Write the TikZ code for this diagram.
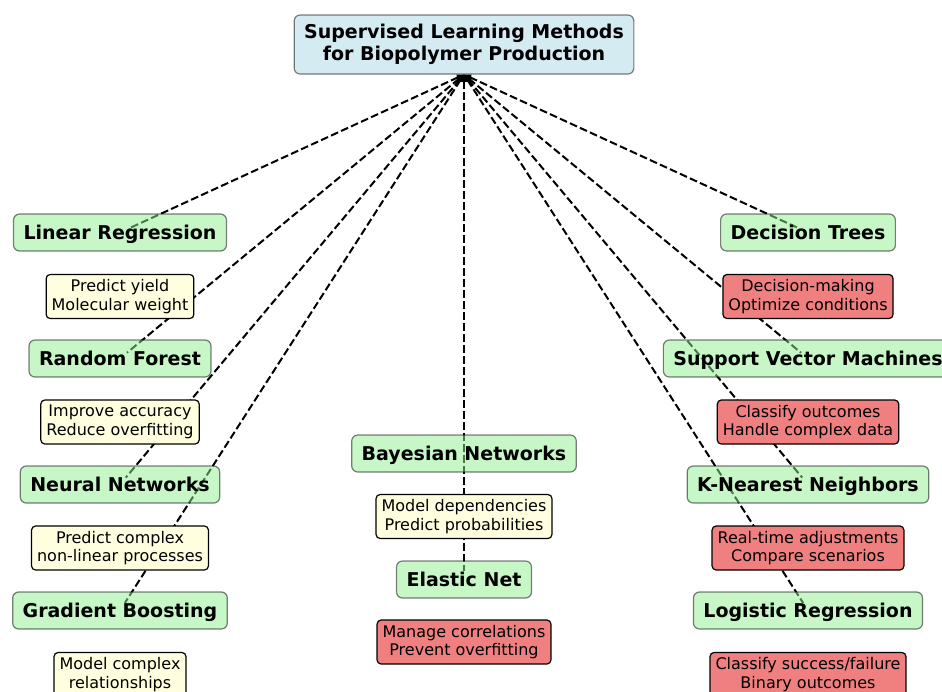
\documentclass[tikz,border=0pt]{standalone}
\usepackage{fontspec}
\setmainfont{DejaVu Sans}
\usetikzlibrary{arrows.meta}
\pgfdeclarelayer{paper}
\pgfdeclarelayer{links}
\pgfsetlayers{paper,links,main}
\definecolor{rootblue}{HTML}{ADD8E6}
\definecolor{methodgreen}{HTML}{90EE90}
\definecolor{usecream}{HTML}{FFFFE0}
\definecolor{usecoral}{HTML}{F08080}
\tikzset{
  rootbox/.style={draw=black, draw opacity=0.5, fill=rootblue, fill opacity=0.5,
    text opacity=1, rounded corners=6pt, line width=1.2pt, align=center,
    inner xsep=10pt, minimum height=59pt,
    font=\fontsize{19}{22}\selectfont\bfseries},
  method/.style={draw=black, draw opacity=0.5, fill=methodgreen, fill opacity=0.5,
    text opacity=1, rounded corners=6pt, line width=1.2pt,
    inner xsep=10pt, inner ysep=0pt, minimum height=37pt,
    text height=15pt, text depth=2pt,
    font=\fontsize{19}{22}\selectfont\bfseries},
  usebox/.style={draw=black, rounded corners=4pt, line width=1.2pt, align=center,
    inner xsep=5.5pt, inner ysep=2pt, minimum height=44pt,
    font=\fontsize{16}{18.5}\selectfont},
  cream/.style={usebox, fill=usecream},
  coral/.style={usebox, fill=usecoral},
  link/.style={draw=black, line width=2pt, dash pattern=on 7.7pt off 3.3pt,
    shorten >=9pt, {Stealth[length=7pt,width=6pt,inset=0pt]}-},
}
\begin{document}
\begin{tikzpicture}[x=1pt, y=-1pt]
\clip (0,0) rectangle (942,691);
\begin{pgfonlayer}{paper}
  \fill[white] (0,0) rectangle (942,691);
\end{pgfonlayer}

% title
\node[rootbox] (root) at (464,44.5) {Supervised Learning Methods\\for Biopolymer Production};

% left column
\node[method] (lr) at (120,232.5) {Linear Regression};
\node[cream]  (lru) at (120,296.5) {Predict yield\\Molecular weight};
\node[method] (rf) at (120,358.5) {Random Forest};
\node[cream]  (rfu) at (120,422) {Improve accuracy\\Reduce overfitting};
\node[method] (nn) at (120,484.5) {Neural Networks};
\node[cream]  (nnu) at (120,548) {Predict complex\\non-linear processes};
\node[method] (gb) at (120,610.5) {Gradient Boosting};
\node[cream]  (gbu) at (120,674.5) {Model complex\\relationships};

% middle column
\node[method] (bn) at (464,453.5) {Bayesian Networks};
\node[cream]  (bnu) at (464,516.5) {Model dependencies\\Predict probabilities};
\node[method] (en) at (464,579.5) {Elastic Net};
\node[coral]  (enu) at (464,642) {Manage correlations\\Prevent overfitting};

% right column
\node[method] (dt) at (808,232.5) {Decision Trees};
\node[coral]  (dtu) at (808,296.5) {Decision-making\\Optimize conditions};
\node[method] (svm) at (808,358.5) {Support Vector Machines};
\node[coral]  (svmu) at (808,422) {Classify outcomes\\Handle complex data};
\node[method] (knn) at (808,484.5) {K-Nearest Neighbors};
\node[coral]  (knnu) at (808,548) {Real-time adjustments\\Compare scenarios};
\node[method] (lg) at (808,610.5) {Logistic Regression};
\node[coral]  (lgu) at (808,674.5) {Classify success/failure\\Binary outcomes};

% dashed links: every method points up to the title
\begin{pgfonlayer}{links}
  \foreach \m in {lr,rf,nn,gb,bn,en,dt,svm,knn,lg}
    \draw[link] (root.south) -- (\m.center);
\end{pgfonlayer}
\end{tikzpicture}
\end{document}
